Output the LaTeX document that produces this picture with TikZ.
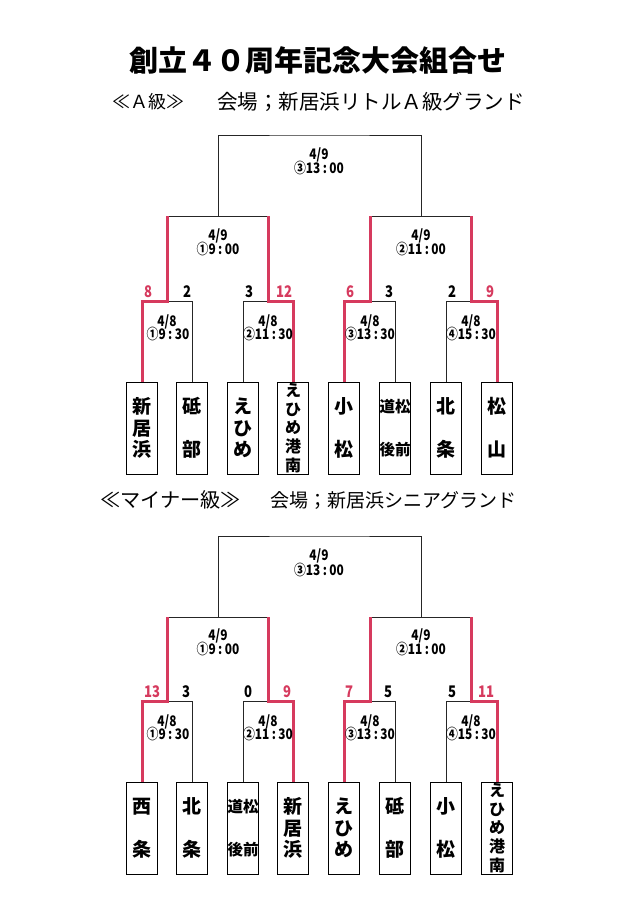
\documentclass[tikz,border=0pt]{standalone}
\usepackage{fontspec}
\setmainfont{Noto Sans CJK JP}
\newfontfamily\nf[FakeStretch=0.82]{Noto Sans CJK JP}
\definecolor{winred}{RGB}{214,58,94}
\begin{document}
\begin{tikzpicture}[x=1pt,y=-1pt,
  bline/.style={line width=0.8pt, black!85},
  wline/.style={line width=3pt, winred},
  team/.style={draw, line width=0.9pt, minimum width=31pt, minimum height=92pt, inner sep=0pt, align=center, font=\bfseries\fontsize{19}{21.5}\selectfont},
  teamlong/.style={team, font=\bfseries\fontsize{16}{18.7}\selectfont},
  teamtwo/.style={team, font=\bfseries\fontsize{15.5}{15.5}\selectfont},
  datel/.style={font=\nf\bfseries\fontsize{14.5}{14.5}\selectfont, inner sep=0pt},
  score/.style={font=\nf\bfseries\fontsize{16}{16}\selectfont, inner sep=0pt},
  wscore/.style={score, text=winred},
  ttl/.style={font=\bfseries\fontsize{29}{29}\selectfont, inner sep=0pt},
  head/.style={inner sep=0pt, anchor=west},
]
\useasboundingbox (0,0) rectangle (640,905);
\fill[white] (0,0) rectangle (640,905);

% ---------- titles ----------
\node[ttl] (title) at (318,60) {創立４０周年記念大会組合せ};
\node[head, font=\fontsize{18}{18}\selectfont] (ha1) at (112,102) {≪Ａ級≫};
\node[head, font=\fontsize{20.5}{20.5}\selectfont] (ha2) at (217,102) {会場；新居浜リトルＡ級グランド};
\node[head, font=\fontsize{20.2}{20.2}\selectfont] (hb1) at (100,500) {≪マイナー級≫};
\node[head, font=\fontsize{19}{19}\selectfont] (hb2) at (270,500) {会場；新居浜シニアグランド};

% ---------- A section ----------
\node[team] (a1) at (142,428) {新\\居\\浜};
\node[team] (a2) at (192,428) {砥\\[21.5pt]部};
\node[team] (a3) at (243,428) {え\\ひ\\め};
\node[teamlong] (a4) at (293,428) {え\\ひ\\め\\港\\南};
\node[team] (a5) at (344,428) {小\\[21.5pt]松};
\node[teamtwo] (a6) at (395,428) {道松\\[27.5pt]後前};
\node[team] (a7) at (446,428) {北\\[21.5pt]条};
\node[team] (a8) at (497,428) {松\\[21.5pt]山};

\coordinate (aj1) at (167,301);
\coordinate (aj2) at (268,301);
\coordinate (aj3) at (370,301);
\coordinate (aj4) at (471,301);
\coordinate (as1) at (218,216);
\coordinate (as2) at (421,216);
\coordinate (af) at (319,135);

\draw[bline] (a2.north) |- (aj1);
\draw[bline] (a3.north) |- (aj2);
\draw[bline] (a6.north) |- (aj3);
\draw[bline] (a7.north) |- (aj4);
\draw[bline] (aj1|-as1) -- (aj2|-as1);
\draw[bline] (aj3|-as2) -- (aj4|-as2);
\draw[bline] (as1) |- (af) -| (as2);
\draw[wline] (a1.north) |- (aj1) -- (aj1|-as1);
\draw[wline] (a4.north) |- (aj2) -- (aj2|-as1);
\draw[wline] (a5.north) |- (aj3) -- (aj3|-as2);
\draw[wline] (a8.north) |- (aj4) -- (aj4|-as2);

\node[datel] (adf1) at (319,155) {4/9};
\node[datel] (adf2) at (319,168) {③13\,:\,00};
\node[datel] (ads1) at (218,236) {4/9};
\node[datel] (ads2) at (218,249) {①9\,:\,00};
\node[datel] (ads3) at (421,236) {4/9};
\node[datel] (ads4) at (421,249) {②11\,:\,00};
\node[datel] (adr1) at (167,322) {4/8};
\node[datel] (adr2) at (168,334) {①9\,:\,30};
\node[datel] (adr3) at (268,322) {4/8};
\node[datel] (adr4) at (268,334) {②11\,:\,30};
\node[datel] (adr5) at (370,322) {4/8};
\node[datel] (adr6) at (370,334) {③13\,:\,30};
\node[datel] (adr7) at (471,322) {4/8};
\node[datel] (adr8) at (471,334) {④15\,:\,30};

\node[wscore] (asc1) at (148,292) {8};
\node[score] (asc2) at (187,292) {2};
\node[score] (asc3) at (249,292) {3};
\node[wscore] (asc4) at (284,292) {12};
\node[wscore] (asc5) at (350,292) {6};
\node[score] (asc6) at (389,292) {3};
\node[score] (asc7) at (452,292) {2};
\node[wscore] (asc8) at (490,292) {9};

% ---------- B section ----------
\node[team] (b1) at (142,828) {西\\[21.5pt]条};
\node[team] (b2) at (192,828) {北\\[21.5pt]条};
\node[teamtwo] (b3) at (243,828) {道松\\[27.5pt]後前};
\node[team] (b4) at (293,828) {新\\居\\浜};
\node[team] (b5) at (344,828) {え\\ひ\\め};
\node[team] (b6) at (395,828) {砥\\[21.5pt]部};
\node[team] (b7) at (446,828) {小\\[21.5pt]松};
\node[teamlong] (b8) at (497,828) {え\\ひ\\め\\港\\南};

\coordinate (bj1) at (167,701);
\coordinate (bj2) at (268,701);
\coordinate (bj3) at (370,701);
\coordinate (bj4) at (471,701);
\coordinate (bs1) at (218,617);
\coordinate (bs2) at (421,617);
\coordinate (bf) at (319,536);

\draw[bline] (b2.north) |- (bj1);
\draw[bline] (b3.north) |- (bj2);
\draw[bline] (b6.north) |- (bj3);
\draw[bline] (b7.north) |- (bj4);
\draw[bline] (bj1|-bs1) -- (bj2|-bs1);
\draw[bline] (bj3|-bs2) -- (bj4|-bs2);
\draw[bline] (bs1) |- (bf) -| (bs2);
\draw[wline] (b1.north) |- (bj1) -- (bj1|-bs1);
\draw[wline] (b4.north) |- (bj2) -- (bj2|-bs1);
\draw[wline] (b5.north) |- (bj3) -- (bj3|-bs2);
\draw[wline] (b8.north) |- (bj4) -- (bj4|-bs2);

\node[datel] (bdf1) at (319,556) {4/9};
\node[datel] (bdf2) at (319,570) {③13\,:\,00};
\node[datel] (bds1) at (218,636) {4/9};
\node[datel] (bds2) at (218,649) {①9\,:\,00};
\node[datel] (bds3) at (421,636) {4/9};
\node[datel] (bds4) at (421,649) {②11\,:\,00};
\node[datel] (bdr1) at (167,722) {4/8};
\node[datel] (bdr2) at (168,734) {①9\,:\,30};
\node[datel] (bdr3) at (268,722) {4/8};
\node[datel] (bdr4) at (268,734) {②11\,:\,30};
\node[datel] (bdr5) at (370,722) {4/8};
\node[datel] (bdr6) at (370,734) {③13\,:\,30};
\node[datel] (bdr7) at (471,722) {4/8};
\node[datel] (bdr8) at (471,734) {④15\,:\,30};

\node[wscore] (bsc1) at (152,692) {13};
\node[score] (bsc2) at (186,692) {3};
\node[score] (bsc3) at (248,692) {0};
\node[wscore] (bsc4) at (287,692) {9};
\node[wscore] (bsc5) at (349,692) {7};
\node[score] (bsc6) at (388,692) {5};
\node[score] (bsc7) at (452,692) {5};
\node[wscore] (bsc8) at (486,692) {11};
\end{tikzpicture}
\end{document}
